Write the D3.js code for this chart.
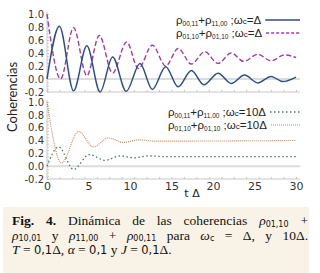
<!DOCTYPE html>
<html>
<head>
<meta charset="utf-8">
<script src="https://cdn.jsdelivr.net/npm/d3@7"></script>
<style>
  body { margin: 0; background: #fff; }
  svg { display: block; }
  .axis text { font-family: "DejaVu Sans", sans-serif; font-size: 10px; fill: #333; }
  .axis path, .axis line { stroke: #c8c8c8; }
</style>
</head>
<body>
<div id="chart"></div>
<script>
// values (t in units of 1/Delta)
const tBlue  = [0, 1.5, 3.2, 4.8, 6.4, 7.9, 9.55, 11.2, 12.7, 14.3, 15.8, 17.4, 18.9, 20.6, 22.2, 23.8, 25.4, 27.0, 28.4, 30];
const blue   = [0, 0.81, -0.18, 0.51, -0.2, 0.34, -0.19, 0.24, -0.16, 0.19, -0.12, 0.13, -0.09, 0.09, -0.07, 0.06, -0.06, 0.04, -0.04, 0.03];
const tMag   = [0, 1.65, 3.2, 4.8, 6.3, 7.9, 9.6, 11.0, 12.7, 14.3, 15.8, 17.4, 19.0, 20.6, 22.2, 23.7, 25.4, 27.0, 28.6, 30];
const mag    = [1.0, 0.0, 0.79, 0.05, 0.67, 0.09, 0.57, 0.16, 0.52, 0.20, 0.47, 0.23, 0.42, 0.24, 0.40, 0.27, 0.38, 0.28, 0.37, 0.33];
const tGreen = [0, 1.4, 3.2, 5.1, 7.0, 8.8, 10.5, 12.2, 14, 30];
const green  = [0, 0.30, -0.05, 0.18, 0.09, 0.16, 0.13, 0.16, 0.15, 0.15];
const tOrange = [0, 1.75, 3.8, 5.6, 7.4, 9.2, 11.0, 13, 30];
const orange  = [1.0, 0.05, 0.54, 0.30, 0.44, 0.37, 0.41, 0.39, 0.40];
const xTicks = [0, 5, 10, 15, 20, 25, 30];
const yTicks = [-0.2, 0, 0.2, 0.4, 0.6, 0.8, 1.0];

let width = 320, height = 273;
let svg = d3.select("#chart").append("svg")
  .attr("width", width).attr("height", height);

let x = d3.scaleLinear().domain([0, 30]).range([47, 296]);
let yTop = d3.scaleLinear().domain([-0.2, 1.0]).range([92, 14]);
let yBot = d3.scaleLinear().domain([-0.2, 1.0]).range([179, 102]);

//panels: gray zero line, bottom axis with small ticks, left axis
function panel(y) {
  svg.append("line")
    .attr("x1", x(0)).attr("x2", 300)
    .attr("y1", y(0)).attr("y2", y(0))
    .style("stroke", "#dcdcdc").style("stroke-width", 2);

  let minor = d3.range(0, 31, 1.5);
  let bottom = svg.append("g").attr("class", "axis")
    .attr("transform", `translate(0,${y(-0.2)})`)
    .call(d3.axisTop(x).tickValues(minor).tickSize(2).tickFormat(""));
  bottom.select(".domain").attr("d", `M${x(0)},0H300`);

  let left = svg.append("g").attr("class", "axis")
    .attr("transform", `translate(${x(0)},0)`)
    .call(d3.axisRight(y).tickValues(d3.range(-0.2, 1.001, 0.05)).tickSize(2).tickFormat(""));
  left.select(".domain").attr("d", `M0,${y(1.0) - 2}V${y(-0.2)}`);

  svg.append("g").attr("class", "axis")
    .attr("transform", `translate(${x(0) - 1},0)`)
    .call(d3.axisLeft(y).tickValues(yTicks).tickSize(0).tickPadding(2).tickFormat(d => d.toFixed(1)))
    .select(".domain").remove();
}
panel(yTop);
panel(yBot);

let xAxis = svg.append("g").attr("class", "axis")
  .attr("transform", `translate(0,${yBot(-0.2)})`)
  .call(d3.axisBottom(x).tickValues(xTicks).tickSize(0).tickPadding(3));
xAxis.select(".domain").remove();
xAxis.selectAll("text").style("font-size", "11px");

function drawLine(ts, vs, y, color, dash, w) {
  let pts = ts.map((t, i) => [t, vs[i]]);
  svg.append("path")
    .datum(pts)
    .attr("d", d3.line().x(d => x(d[0])).y(d => y(d[1])).curve(d3.curveMonotoneX))
    .style("fill", "none")
    .style("stroke", color)
    .style("stroke-width", w)
    .style("stroke-dasharray", dash);
}
drawLine(tMag, mag, yTop, "#a33aa8", "5,2.5", 1.4);
drawLine(tBlue, blue, yTop, "#2c4d8e", null, 1.5);
drawLine(tOrange, orange, yBot, "#cc8358", "1,1", 1.1);
drawLine(tGreen, green, yBot, "#3e7d58", "1.5,2.5", 1.3);

// axis titles
svg.append("text")
  .attr("transform", "translate(17,97) rotate(-90)")
  .attr("text-anchor", "middle")
  .style("font-family", "Lato, sans-serif").style("font-size", "13px").style("fill", "#222")
  .text("Coherencias");
svg.append("text")
  .attr("x", 192).attr("y", 197)
  .attr("text-anchor", "middle")
  .style("font-family", "\"DejaVu Sans\", sans-serif").style("font-size", "11px").style("fill", "#222")
  .text("t Δ");

// legends
let legends = [
  { y: yTop, row: 0, a: "00,11", b: "11,00", w: "Δ", color: "#2c4d8e", dash: null, sw: 1.5, lx: 176 },
  { y: yTop, row: 1, a: "01,10", b: "01,10", w: "Δ", color: "#a33aa8", dash: "3,2", sw: 1.4, lx: 176 },
  { y: yBot, row: 0, a: "00,11", b: "11,00", w: "10Δ", color: "#3e7d58", dash: "1.5,2.5", sw: 1.3, lx: 168 },
  { y: yBot, row: 1, a: "01,10", b: "01,10", w: "10Δ", color: "#cc8358", dash: "1,1", sw: 1.1, lx: 168 }
];
for (let L of legends) {
  let base = (L.y === yTop ? 24 : 116) + L.row * 13;
  let t = svg.append("text")
    .attr("x", L.lx).attr("y", base)
    .style("font-family", "\"Liberation Sans\", sans-serif").style("font-size", "11.5px").style("fill", "#222");
  t.append("tspan").text("ρ");
  t.append("tspan").attr("dy", 2).style("font-size", "6.5px").text(L.a);
  t.append("tspan").attr("dy", -2).text("+ρ");
  t.append("tspan").attr("dy", 2).style("font-size", "6.5px").text(L.b);
  t.append("tspan").attr("dy", -2).text(" ;ω");
  t.append("tspan").style("font-size", "8px").text("c");
  t.append("tspan").text("=" + L.w);
  let x0 = L.lx + t.node().getComputedTextLength() + 4;
  svg.append("line")
    .attr("x1", x0).attr("x2", 300)
    .attr("y1", base - 4).attr("y2", base - 4)
    .style("stroke", L.color).style("stroke-width", L.sw).style("stroke-dasharray", L.dash);
}

// caption
svg.append("rect")
  .attr("x", 3).attr("y", 207).attr("width", 306).attr("height", 66)
  .style("fill", "#f9f3e7");

const serif = "\"Liberation Serif\", serif";
const sans = "\"DejaVu Sans\", sans-serif";
let captionLines = [
  [["Fig. 4.", "b"], [" Dinámica de las coherencias ", ""], ["ρ", "i"], ["01,10", "s"], [" +", ""]],
  [["ρ", "i"], ["10,01", "s"], [" y ", ""], ["ρ", "i"], ["11,00", "s"], [" + ", ""], ["ρ", "i"], ["00,11", "s"],
   [" para ", ""], ["ω", "i"], ["c", "s"], [" = Δ, y 10Δ.", ""]],
  [["T", "i"], [" = ", ""], ["0,1", "n"], ["Δ, ", ""], ["α", "i"], [" = ", ""], ["0,1", "n"], [" y ", ""],
   ["J", "i"], [" = ", ""], ["0,1", "n"], ["Δ.", ""]]
];
captionLines.forEach((segs, li) => {
  let t = svg.append("text")
    .attr("x", 12).attr("y", 225 + li * 14.5)
    .style("font-family", serif).style("font-size", "13.5px").style("fill", "#111");
  let shift = 0;
  for (let [s, k] of segs) {
    let sp = t.append("tspan").text(s);
    let dy = 0;
    if (k == "s") { dy = 1.5; sp.style("font-family", sans).style("font-size", "8px"); }
    if (k == "n") sp.style("font-family", sans).style("font-size", "11.5px");
    if (k == "b") sp.style("font-weight", "bold");
    if (k == "i") sp.style("font-style", "italic");
    if (dy != shift) { sp.attr("dy", dy - shift); shift = dy; }
  }
  if (li < 2) {
    let spaces = segs.map(d => d[0]).join("").split(" ").length - 1;
    let extra = 296 - t.node().getComputedTextLength();
    t.style("word-spacing", (extra / spaces) + "px");
  }
});
</script>
</body>
</html>
